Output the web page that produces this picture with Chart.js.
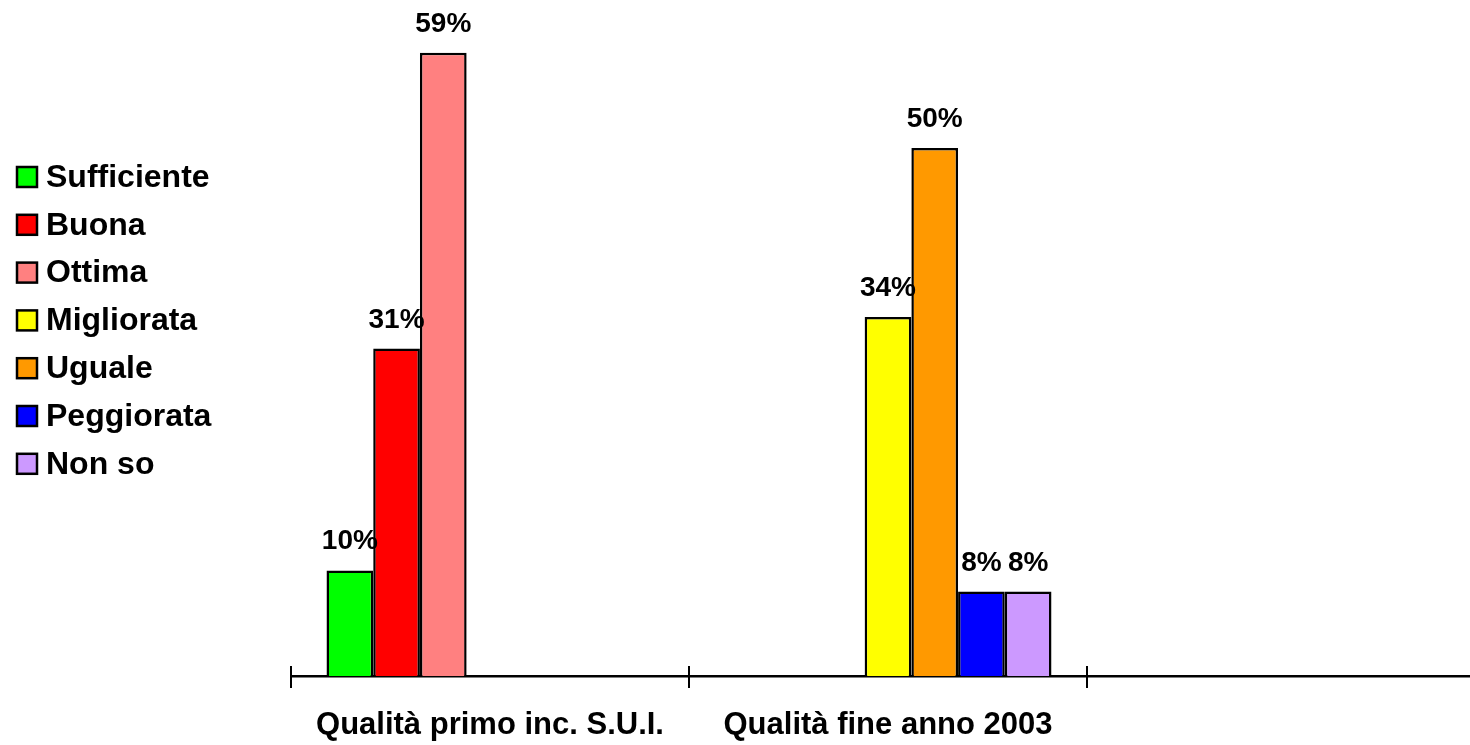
<!DOCTYPE html>
<html>
<head>
<meta charset="utf-8">
<script src="https://cdn.jsdelivr.net/npm/chart.js@4"></script>
<style>
  body { margin: 0; background: #fff; overflow: hidden; }
</style>
</head>
<body>
<canvas id="qualita" width="1490" height="745"></canvas>
<script>
// categorie sull'asse x (la terza e' vuota, come nell'originale)
const categories = ["Qualità primo inc. S.U.I.", "Qualità fine anno 2003", ""];

// una serie per ogni voce della legenda
const sufficiente = [10, null, null];
const buona = [31, null, null];
const ottima = [59, null, null];
const migliorata = [null, 34, null];
const uguale = [null, 50, null];
const peggiorata = [null, 8, null];
const nonSo = [null, 8, null];

const seriesNames = ["Sufficiente", "Buona", "Ottima", "Migliorata", "Uguale", "Peggiorata", "Non so"];
const seriesData = [sufficiente, buona, ottima, migliorata, uguale, peggiorata, nonSo];
const seriesColors = ["#00ff00", "#ff0000", "#ff8080", "#ffff00", "#ff9900", "#0000ff", "#cc99ff"];

const boldFont = '"Liberation Sans", Arial, sans-serif';

const datasets = seriesNames.map(function (name, i) {
  return {
    label: name,
    data: seriesData[i],
    backgroundColor: seriesColors[i],
    borderColor: "#000",
    borderWidth: 2.5,
    categoryPercentage: 0.8216,
    barPercentage: 1.0
  };
});

// etichette percentuali sopra le barre + legenda a sinistra + tacche dell'asse
const extras = {
  id: "extras",
  afterDatasetsDraw(chart) {
    const ctx = chart.ctx;
    ctx.save();
    ctx.fillStyle = "#000";
    ctx.font = "bold 28px " + boldFont;
    ctx.textAlign = "center";
    ctx.textBaseline = "alphabetic";
    chart.data.datasets.forEach(function (ds, i) {
      const meta = chart.getDatasetMeta(i);
      meta.data.forEach(function (bar, j) {
        if (ds.data[j] == null) return;
        ctx.fillText(ds.data[j] + "%", bar.x, bar.y - 21);
      });
    });

    // tacche tra le categorie
    const x = chart.scales.x;
    const y0 = chart.chartArea.bottom;
    ctx.strokeStyle = "#000";
    ctx.lineWidth = 2;
    const n = chart.data.labels.length;
    for (let k = 0; k <= n; k++) {
      const px = Math.round(x.left + k * (x.width / n));
      ctx.beginPath();
      ctx.moveTo(px, y0 - 10);
      ctx.lineTo(px, y0 + 12);
      ctx.stroke();
    }

    // legenda
    ctx.font = "bold 32px " + boldFont;
    ctx.textAlign = "left";
    ctx.textBaseline = "middle";
    chart.data.datasets.forEach(function (ds, i) {
      const cy = 177 + i * 47.8;
      ctx.fillStyle = ds.backgroundColor;
      ctx.fillRect(17, cy - 10, 20, 20);
      ctx.lineWidth = 2.5;
      ctx.strokeStyle = "#000";
      ctx.strokeRect(17, cy - 10, 20, 20);
      ctx.fillStyle = "#000";
      ctx.fillText(ds.label, 46, cy + 1);
    });
    ctx.restore();
  }
};

new Chart(document.getElementById("qualita"), {
  type: "bar",
  data: { labels: categories, datasets: datasets },
  options: {
    responsive: false,
    animation: false,
    layout: { padding: { left: 291, right: 5, top: 0, bottom: 0 } },
    plugins: {
      legend: { display: false },
      tooltip: { enabled: false }
    },
    scales: {
      x: {
        grid: { display: false, drawTicks: false },
        border: { display: true, color: "#000", width: 2.5 },
        ticks: {
          color: "#000",
          padding: 31,
          maxRotation: 0,
          font: { family: boldFont, size: 31, weight: "bold" }
        },
        afterFit(scale) { scale.height = 69; }
      },
      y: {
        display: false,
        min: 0,
        max: 64
      }
    }
  },
  plugins: [extras]
});
</script>
</body>
</html>
